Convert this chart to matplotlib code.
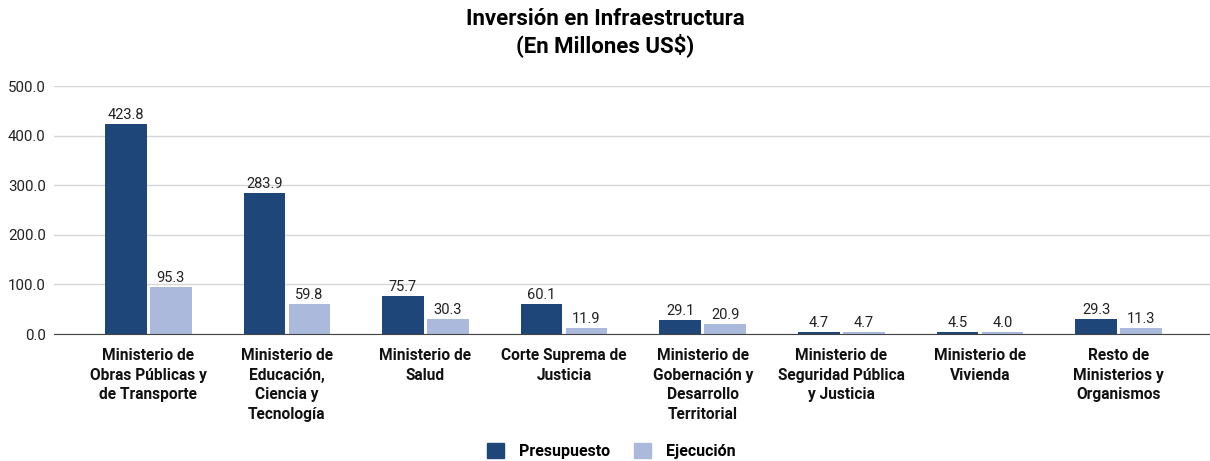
import numpy as np
import matplotlib.pyplot as plt
from matplotlib.patches import Patch

plt.rcParams['font.family'] = ['Roboto', 'DejaVu Sans']

categorias = [
    'Ministerio de\nObras Públicas y\nde Transporte',
    'Ministerio de\nEducación,\nCiencia y\nTecnología',
    'Ministerio de\nSalud',
    'Corte Suprema de\nJusticia',
    'Ministerio de\nGobernación y\nDesarrollo\nTerritorial',
    'Ministerio de\nSeguridad Pública\ny Justicia',
    'Ministerio de\nVivienda',
    'Resto de\nMinisterios y\nOrganismos',
]
presupuesto = [423.8, 283.9, 75.7, 60.1, 29.1, 4.7, 4.5, 29.3]
ejecucion = [95.3, 59.8, 30.3, 11.9, 20.9, 4.7, 4.0, 11.3]
yticks = [0, 100, 200, 300, 400, 500]

c_pres = '#1f4678'
c_ejec = '#aab9dc'

fig = plt.figure(figsize=(12.1, 4.61), dpi=100)
ax = fig.add_axes([54/1210, 127/461, 1156/1210, 248/461])

x = np.arange(len(categorias))
w = 0.30
b1 = ax.bar(x - 0.162, presupuesto, w, color=c_pres, zorder=3)
b2 = ax.bar(x + 0.162, ejecucion, w, color=c_ejec, zorder=3)

for bars in (b1, b2):
    for r in bars:
        ax.text(r.get_x() + r.get_width() / 2, r.get_height() + 4, f'{r.get_height():.1f}',
                ha='center', va='bottom', fontsize=10.5, color='#222222')

ax.set_xlim(-0.68, 7.66)
ax.set_ylim(0, 500)
ax.set_yticks(yticks)
ax.set_yticklabels([f'{v:.1f}' for v in yticks], fontsize=10.8, color='#222222')
ax.set_xticks(x)
ax.set_xticklabels(categorias, fontsize=11.2, fontweight='bold', color='#111111', linespacing=1.4, va='top')
ax.tick_params(axis='both', length=0)
ax.tick_params(axis='x', pad=10)
ax.tick_params(axis='y', pad=6)
ax.grid(axis='y', color='#d6d6d6', lw=1, zorder=0)
for s in ['top', 'right', 'left']:
    ax.spines[s].set_visible(False)
ax.spines['bottom'].set_color('#444444')
ax.spines['bottom'].set_zorder(4)

fig.suptitle('Inversión en Infraestructura\n(En Millones US$)', fontsize=16, fontweight='bold',
             y=0.983, linespacing=1.15)

handles = [Patch(color=c_pres, label='Presupuesto'), Patch(color=c_ejec, label='Ejecución')]
leg = fig.legend(handles=handles, loc='center', bbox_to_anchor=(0.505, 0.022), ncol=2, frameon=False,
                 prop={'weight': 'bold', 'size': 11.5}, handlelength=1.1, handleheight=1.1,
                 columnspacing=1.5, handletextpad=0.9)

fig.savefig('out.png', dpi=100)
